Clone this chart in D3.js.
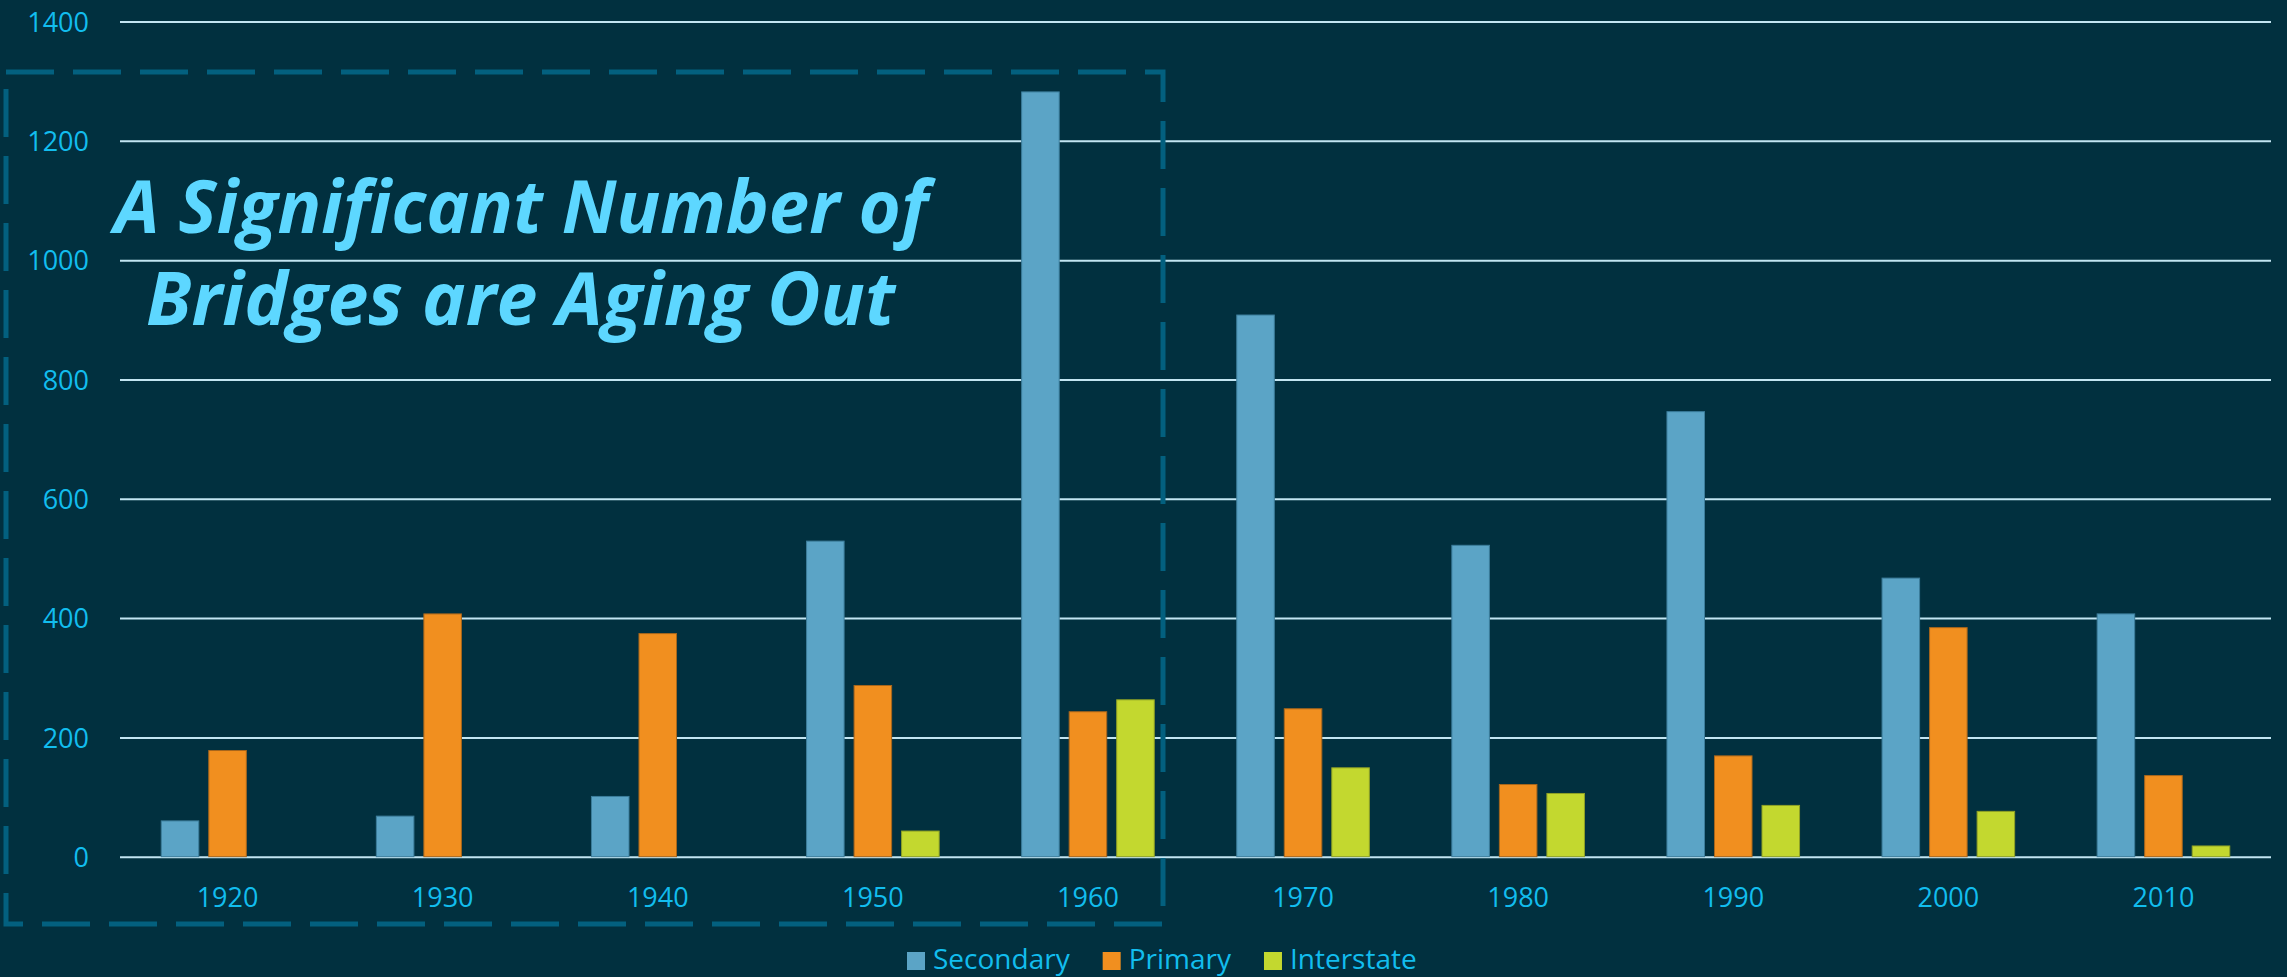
<!DOCTYPE html>
<html>
<head>
<meta charset="utf-8">
<script src="https://d3js.org/d3.v7.min.js"></script>
<style>
    html, body { margin: 0; padding: 0; background: #01303f; }
    svg { display: block; }
    text { font-family: "Open Sans", "Noto Sans", sans-serif; }
</style>
</head>
<body>
<svg width="2287" height="977"></svg>
<script>

// data
var years = ["1920", "1930", "1940", "1950", "1960", "1970", "1980", "1990", "2000", "2010"];
var series = ["Secondary", "Primary", "Interstate"];
var secondary  = [60, 68, 101, 529, 1282, 908, 522, 746, 467, 407];
var primary    = [178, 407, 374, 287, 243, 248, 121, 169, 384, 136];
var interstate = [0, 0, 0, 43, 263, 149, 106, 86, 76, 18];
var yTicks = [0, 200, 400, 600, 800, 1000, 1200, 1400];
var titleLines = ["A Significant Number of", "Bridges are Aging Out"];

var fills   = { Secondary: "#5ba4c6", Primary: "#f18f1f", Interstate: "#c3d82f" };
var strokes = { Secondary: "#3c7d9b", Primary: "#a8661c", Interstate: "#8fa126" };

var rows = years.map(function(y, i) {
    return { year: y, Secondary: secondary[i], Primary: primary[i], Interstate: interstate[i] };
});

var svg = d3.select("svg"),
    width = +svg.attr("width"),
    height = +svg.attr("height");

var margin = { left: 120, right: 16, top: 21.5, bottom: 120.3 };
var plotW = width - margin.left - margin.right,
    plotH = height - margin.top - margin.bottom;

svg.append("rect")
    .attr("width", width)
    .attr("height", height)
    .attr("fill", "#01303f");

var x0 = d3.scaleBand()
    .domain(years)
    .range([0, plotW]);

var x1 = d3.scaleBand()
    .domain(series)
    .range([0, x0.bandwidth()])
    .paddingInner(0.21)
    .paddingOuter(0.868);

var y = d3.scaleLinear()
    .domain([0, 1400])
    .range([plotH, 0]);

var g = svg.append("g")
    .attr("transform", "translate(" + margin.left + "," + margin.top + ")");

// y axis with gridlines
var yAxis = g.append("g")
    .call(d3.axisLeft(y)
        .tickValues(yTicks)
        .tickFormat(d3.format("d"))
        .tickSize(-plotW)
        .tickPadding(31));
yAxis.select(".domain").remove();
yAxis.selectAll("line")
    .attr("stroke", "#c2e5f2")
    .attr("stroke-width", 2);
yAxis.selectAll("text")
    .attr("fill", "#12bdee")
    .attr("font-size", 27)
    .attr("dy", "0.36em");

// bars
g.append("g")
    .selectAll("g")
    .data(rows)
    .enter().append("g")
      .attr("transform", function(d) { return "translate(" + x0(d.year) + ",0)"; })
    .selectAll("rect")
    .data(function(d) { return series.filter(function(s) { return d[s] > 0; }).map(function(s) { return { key: s, value: d[s] }; }); })
    .enter().append("rect")
      .attr("x", function(d) { return x1(d.key); })
      .attr("y", function(d) { return y(d.value); })
      .attr("width", x1.bandwidth())
      .attr("height", function(d) { return y(0) - y(d.value); })
      .attr("fill", function(d) { return fills[d.key]; })
      .attr("stroke", function(d) { return strokes[d.key]; })
      .attr("stroke-width", 1);

// x axis labels
var xAxis = g.append("g")
    .attr("transform", "translate(0," + plotH + ")")
    .call(d3.axisBottom(x0).tickSize(0).tickPadding(31));
xAxis.select(".domain").remove();
xAxis.selectAll("text")
    .attr("fill", "#12bdee")
    .attr("font-size", 27);

// dashed highlight box
svg.append("rect")
    .attr("x", 6)
    .attr("y", 72)
    .attr("width", 1157)
    .attr("height", 852)
    .attr("fill", "none")
    .attr("stroke", "#03607f")
    .attr("stroke-width", 5)
    .attr("stroke-dasharray", "48,19");

// title inside the box
var titleX = [114, 146], titleY = [233, 325], titleW = [814, 749];
svg.selectAll(".title")
    .data(titleLines)
    .enter().append("text")
      .attr("class", "title")
      .attr("x", function(d, i) { return titleX[i]; })
      .attr("y", function(d, i) { return titleY[i]; })
      .attr("textLength", function(d, i) { return titleW[i]; })
      .attr("lengthAdjust", "spacingAndGlyphs")
      .attr("font-size", 74)
      .attr("font-weight", "bold")
      .attr("font-style", "italic")
      .attr("fill", "#5dd7ff")
      .text(function(d) { return d; });

// legend
var legend = svg.append("g").attr("transform", "translate(907,952)");
var lx = 0;
series.forEach(function(s) {
    var item = legend.append("g").attr("transform", "translate(" + lx + ",0)");
    item.append("rect")
        .attr("width", 18)
        .attr("height", 18)
        .attr("fill", fills[s]);
    var t = item.append("text")
        .attr("x", 26)
        .attr("y", 17)
        .attr("fill", "#12bdee")
        .attr("font-size", 28)
        .text(s);
    lx += 26 + t.node().getComputedTextLength() + 33;
});

</script>
</body>
</html>
